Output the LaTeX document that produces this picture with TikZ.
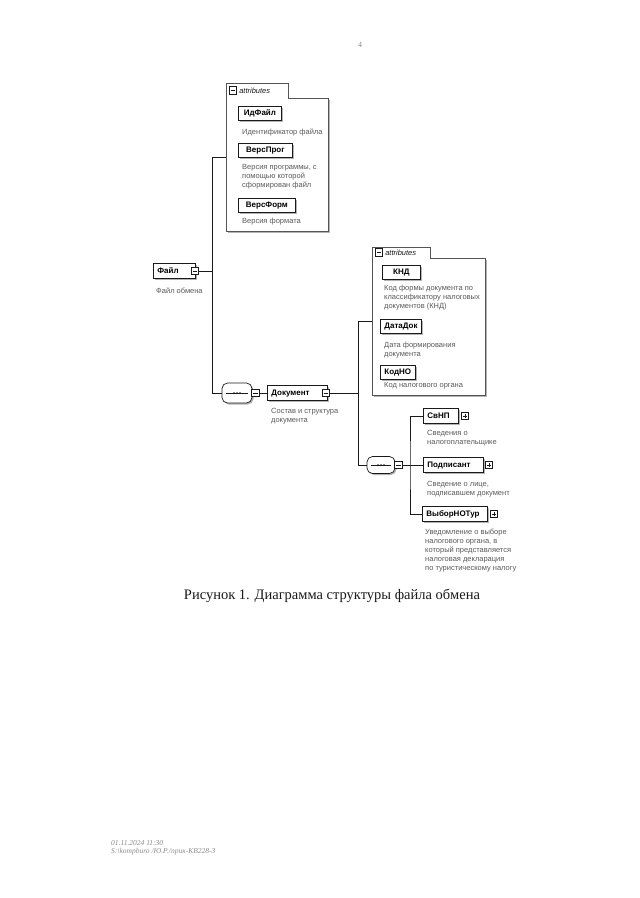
\documentclass[tikz,border=0pt]{standalone}
\usepackage{fontspec}
\setmainfont{Liberation Serif}
\setsansfont{Liberation Sans}
\usepackage{tikz}
\usetikzlibrary{positioning,calc,shadows}
\definecolor{Ink}{HTML}{1A1A1A}
\definecolor{Frame}{HTML}{555555}
\definecolor{Shade}{HTML}{B4B4B4}
\definecolor{Note}{HTML}{5A5A5A}
\definecolor{Stamp}{HTML}{8C8C8C}
\tikzset{
  wire/.style={draw=Ink, line width=0.6pt},
  groupline/.style={draw=Frame, line width=0.6pt, fill=white},
  elbox/.style={draw=Ink, fill=white, line width=0.8pt, anchor=west, align=left, inner xsep=4pt, inner ysep=0pt, minimum height=15pt, text height=6pt, text depth=1.5pt, font=\sffamily\bfseries\fontsize{8}{9}\selectfont, drop shadow={shadow xshift=1.5pt, shadow yshift=-1.5pt, fill=Shade, opacity=1}},
  attrbox/.style={elbox, align=center, minimum height=14pt},
  note/.style={anchor=north west, inner sep=0pt, align=left, text=Note, font=\sffamily\fontsize{7.5}{9}\selectfont},
  tabtext/.style={inner sep=0pt, text=Ink, font=\sffamily\itshape\fontsize{7.5}{9}\selectfont},
  minusicon/.style={draw=Ink, fill=white, line width=0.6pt, minimum size=7.5pt, inner sep=0pt, path picture={\draw[Ink, line width=0.6pt] ([xshift=1.5pt]path picture bounding box.west) -- ([xshift=-1.5pt]path picture bounding box.east);}},
  plusicon/.style={draw=Ink, fill=white, line width=0.6pt, minimum size=7.5pt, inner sep=0pt, path picture={\draw[Ink, line width=0.6pt] ([xshift=1.5pt]path picture bounding box.west) -- ([xshift=-1.5pt]path picture bounding box.east) ([yshift=-1.5pt]path picture bounding box.north) -- ([yshift=1.5pt]path picture bounding box.south);}},
  seqbox/.style={rectangle, rounded corners=5.5pt, draw=Ink, fill=white, line width=0.7pt, inner sep=0pt, drop shadow={shadow xshift=1.5pt, shadow yshift=-1.5pt, fill=Shade, opacity=1}, path picture={\draw[Ink, line width=0.6pt, sharp corners] ([xshift=4pt]path picture bounding box.west) -- ([xshift=-4pt]path picture bounding box.east); \foreach \dx in {-3,0,3} \fill[Ink] ([xshift=\dx pt]path picture bounding box.center) circle (1pt);}},
  caption/.style={inner sep=0pt, text=Ink, font=\fontsize{14.5}{17}\selectfont},
  stamp/.style={anchor=west, inner sep=0pt, text=Stamp, font=\itshape\fontsize{7.5}{9}\selectfont},
}
\begin{document}
\begin{tikzpicture}[x=1pt,y=-1pt]
\path[use as bounding box] (0,0) rectangle (640,898);
\fill[white] (0,0) rectangle (640,898);

% page number
\node[inner sep=0pt, text=Stamp, font=\fontsize{8}{9}\selectfont] (pgnum) at (360,45) {4};

% attribute groups
\foreach \name/\l/\t/\tr/\tb/\r/\b in {A/226/83/288/98/328/231,B/372/247/430/258/485/395}{
  \fill[Shade] (\l+1.5,\b) rectangle (\r+1.5,\b+1.5);
  \fill[Shade] (\r,\tb+1.5) rectangle (\r+1.5,\b+1.5);
  \draw[groupline] (\l,\b) -- (\l,\t) -- (\tr,\t) -- (\tr,\tb) -- (\r,\tb) -- (\r,\b) -- cycle;
  \node[minusicon] (tab\name) at (\l+7,{(\t+\tb)/2}) {};
  \node[tabtext, right=2pt of tab\name] (tabtxt\name) {attributes};
}

% file attributes
\node[attrbox, minimum width=43pt] (idfile) at (238,113) {ИдФайл};
\node[note] (idfileN) at (242,129) {Идентификатор файла};
\node[attrbox, minimum width=54pt] (versprog) at (238,150) {ВерсПрог};
\node[note] (versprogN) at (242,164) {Версия программы, с\\помощью которой\\сформирован файл};
\node[attrbox, minimum width=57pt] (versform) at (238,205) {ВерсФорм};
\node[note] (versformN) at (242,218) {Версия формата};

% root element
\node[elbox, text width=34pt] (file) at (153,271) {Файл};
\node[minusicon] (fileI) at ([xshift=-1pt]file.east) {};
\node[note] (fileN) at (156,288) {Файл обмена};

% document
\node[seqbox, minimum width=30pt, minimum height=20pt] (seqA) at (237,393) {};
\node[minusicon] (seqAI) at ([xshift=3pt]seqA.east) {};
\node[elbox, text width=52pt] (doc) at (267,393) {Документ};
\node[minusicon] (docI) at ([xshift=-2pt]doc.east) {};
\node[note] (docN) at (271,408) {Состав и структура\\документа};

% document attributes
\node[attrbox, minimum width=38pt] (knd) at (382,272) {КНД};
\node[note] (kndN) at (384,285) {Код формы документа по\\классификатору налоговых\\документов (КНД)};
\node[attrbox, minimum width=41pt] (datadok) at (380,326) {ДатаДок};
\node[note] (datadokN) at (384,342) {Дата формирования\\документа};
\node[attrbox, minimum width=33pt] (kodno) at (380,372) {КодНО};
\node[note] (kodnoN) at (384,382) {Код налогового органа};

% document children
\node[seqbox, minimum width=28pt, minimum height=17pt] (seqB) at (381,465) {};
\node[minusicon] (seqBI) at ([xshift=3pt]seqB.east) {};
\node[elbox, text width=27pt] (svnp) at (423,416) {СвНП};
\node[plusicon] (svnpI) at ([xshift=6pt]svnp.east) {};
\node[note] (svnpN) at (427,430) {Сведения о\\налогоплательщике};
\node[elbox, text width=52pt] (podp) at (423,465) {Подписант};
\node[plusicon] (podpI) at ([xshift=5pt]podp.east) {};
\node[note] (podpN) at (427,481) {Сведение о лице,\\подписавшем документ};
\node[elbox, text width=57pt] (vybor) at (422,514) {ВыборНОТур};
\node[plusicon] (vyborI) at ([xshift=6pt]vybor.east) {};
\node[note] (vyborN) at (425,529) {Уведомление о выборе\\налогового органа, в\\который представляется\\налоговая декларация\\по туристическому налогу};

% wires
\coordinate (attrAin) at (226,157);
\coordinate (spineA) at (212,393);
\draw[wire] (attrAin) -| (spineA) -- (seqA.west);
\draw[wire] (fileI.east) -- (fileI.east -| spineA);
\draw[wire] (seqAI.east) -- (doc.west);
\coordinate (attrBin) at (372,321);
\coordinate (spineB) at (358,465);
\draw[wire] (attrBin) -| (spineB) -- (seqB.west);
\draw[wire] (docI.east) -- (docI.east -| spineB);
\coordinate (spineC) at (410,465);
\draw[wire] (svnp.west) -| (spineC) |- (vybor.west);
\draw[wire] (seqBI.east) -- (podp.west);

% caption and stamp
\node[caption] (cap) at (332,596) {Рисунок 1. Диаграмма структуры файла обмена};
\node[stamp] (stampA) at (111,843) {01.11.2024 11:30};
\node[stamp] (stampB) at (111,852) {S:\textbackslash kompburo /Ю.Р./прик-КВ228-3};
\end{tikzpicture}
\end{document}
